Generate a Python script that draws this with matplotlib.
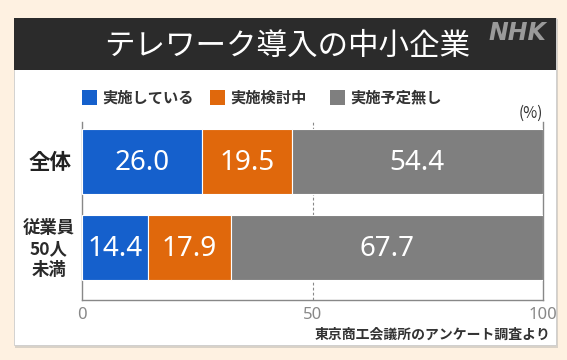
import matplotlib
matplotlib.use("Agg")
import matplotlib.pyplot as plt
from matplotlib.patches import Rectangle

plt.rcParams['font.family'] = ['Noto Sans CJK JP', 'DejaVu Sans']

title = "テレワーク導入の中小企業"
categories = ["全体", "従業員\n50人\n未満"]
series_names = ["実施している", "実施検討中", "実施予定無し"]
values = {
    "実施している": [26.0, 14.4],
    "実施検討中": [19.5, 17.9],
    "実施予定無し": [54.4, 67.7],
}
colors = ["#1560CC", "#E0680C", "#7F7F7F"]
xticks = [0, 50, 100]
source = "東京商工会議所のアンケート調査より"

W, H = 567, 360
fig = plt.figure(figsize=(W / 100, H / 100), dpi=100)
fig.patch.set_facecolor("#FEF1E1")

def fx(px):
    return px / W

def fy(py):
    return 1 - py / H

# panel shadow, panel, header
fig.add_artist(Rectangle((fx(15), fy(348)), fx(558) - fx(15), fy(19) - fy(348),
                         transform=fig.transFigure, facecolor="#D9D2C8", edgecolor="none", zorder=-3))
fig.add_artist(Rectangle((fx(14), fy(345)), fx(556) - fx(14), fy(18) - fy(345),
                         transform=fig.transFigure, facecolor="white", edgecolor="#CCCCCC", lw=0.6, zorder=-2))
fig.add_artist(Rectangle((fx(14), fy(70)), fx(556) - fx(14), fy(18) - fy(70),
                         transform=fig.transFigure, facecolor="#2B2B2B", edgecolor="none", zorder=-1))
fig.text(fx(287), fy(46), title, color="white", fontsize=22, ha="center", va="center", zorder=2)
fig.text(fx(517), fy(33), "NHK", color="#9A9A9A", fontsize=17, fontweight="bold", fontstyle="italic",
         family="DejaVu Sans", ha="center", va="center", zorder=2)

# legend (manual)
leg_x = [82, 210, 330]
for name, c, lx in zip(series_names, colors, leg_x):
    fig.add_artist(Rectangle((fx(lx), fy(105)), fx(15), fy(90) - fy(105),
                             transform=fig.transFigure, facecolor=c, edgecolor="none", zorder=2))
    fig.text(fx(lx + 20), fy(97.5), name, fontsize=11, color="#333333", ha="left", va="center",
             fontweight="bold", zorder=2)

ax = fig.add_axes([fx(82), fy(300), fx(543) - fx(82), fy(122) - fy(300)])
ax.set_zorder(3)
ax.set_facecolor("none")
ypos = list(range(len(categories)))
left = [0] * len(categories)
for name, c in zip(series_names, colors):
    vals = values[name]
    ax.barh(ypos, vals, left=left, height=0.756, color=c, edgecolor="white", linewidth=0.8, zorder=3)
    for y, v, l in zip(ypos, vals, left):
        ax.text(l + v / 2, y + 0.02, f"{v:.1f}", color="white", fontsize=20,
                family=["Noto Sans", "DejaVu Sans"], ha="center", va="center", zorder=4)
    left = [a + b for a, b in zip(left, vals)]

ax.set_xlim(0, 100)
ax.set_ylim(1.61, -0.46)
ax.axvline(50, color="#888888", lw=0.8, ls=(0, (2.5, 2)), zorder=2)
ax.set_xticks(xticks)
ax.set_xticklabels([str(t) for t in xticks], fontsize=12, color="#888888",
                   family=["Noto Sans", "DejaVu Sans"])
ax.tick_params(axis="x", length=0, pad=5)
ax.set_yticks([])
for s in ["left", "right", "bottom"]:
    ax.spines[s].set_color("#888888")
    ax.spines[s].set_linewidth(1.0)
ax.spines["top"].set_visible(False)

# category labels
fig.text(fx(50), fy(163), categories[0], fontsize=15.5, fontweight="bold", color="#222222",
         ha="center", va="center")
fig.text(fx(49), fy(249), categories[1], fontsize=12.5, fontweight="bold", color="#2A2A2A",
         ha="center", va="center", linespacing=1.2)

fig.text(fx(543), fy(113), "(%)", fontsize=11, color="#333333", ha="right", va="center")
fig.text(fx(550), fy(335), source, fontsize=10, fontweight="bold", color="#333333", ha="right", va="center")

fig.savefig("out.png", dpi=100, facecolor=fig.get_facecolor())
